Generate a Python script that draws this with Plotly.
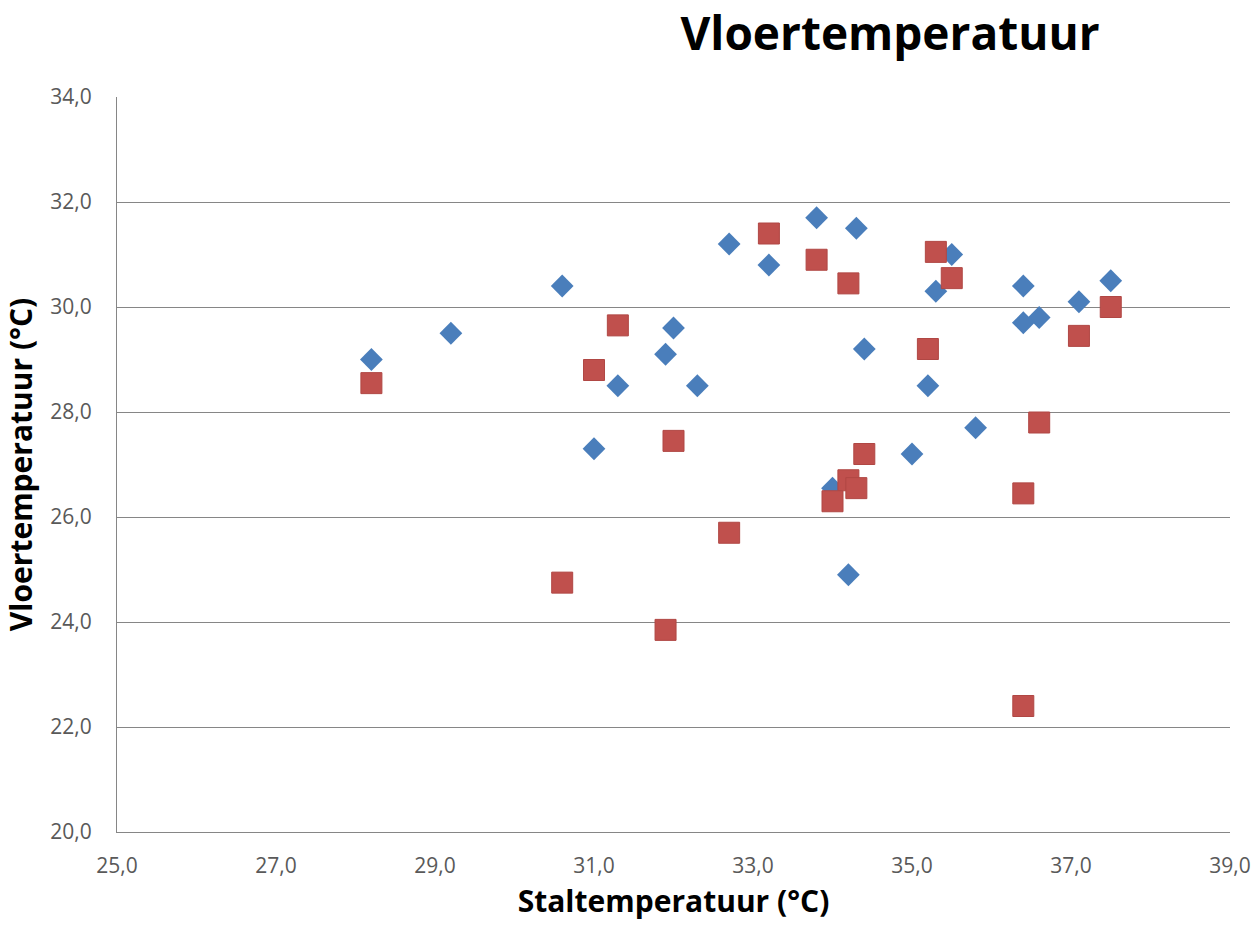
import plotly.graph_objects as go

# Series 1 (blue diamonds): stable temperature vs floor temperature
stal_1 = [28.2, 29.2, 30.6, 31.0, 31.3, 31.9, 32.0, 32.3, 32.7, 33.2, 33.8, 34.3,
          35.5, 35.3, 36.4, 37.5, 37.1, 36.6, 36.4, 34.4, 35.2, 35.8, 35.0, 34.2, 34.0]
vloer_1 = [29.0, 29.5, 30.4, 27.3, 28.5, 29.1, 29.6, 28.5, 31.2, 30.8, 31.7, 31.5,
           31.0, 30.3, 30.4, 30.5, 30.1, 29.8, 29.7, 29.2, 28.5, 27.7, 27.2, 24.9, 26.55]

# Series 2 (red squares)
stal_2 = [28.2, 31.0, 31.3, 32.0, 30.6, 31.9, 32.7, 33.2, 33.8, 34.2, 35.3, 35.5,
          35.2, 37.5, 37.1, 36.6, 34.4, 34.2, 34.3, 34.0, 36.4, 36.4]
vloer_2 = [28.55, 28.8, 29.65, 27.45, 24.75, 23.85, 25.7, 31.4, 30.9, 30.45, 31.05, 30.55,
           29.2, 30.0, 29.45, 27.8, 27.2, 26.7, 26.55, 26.3, 26.45, 22.4]

x_ticks = [25, 27, 29, 31, 33, 35, 37, 39]
y_ticks = [20, 22, 24, 26, 28, 30, 32, 34]

FONT = "Open Sans, Lato, sans-serif"

fig = go.Figure()
fig.add_trace(go.Scatter(
    x=stal_1, y=vloer_1, mode="markers",
    marker=dict(symbol="diamond", size=17.5, color="#4A7EBB", line=dict(width=0)),
    showlegend=False,
))
fig.add_trace(go.Scatter(
    x=stal_2, y=vloer_2, mode="markers",
    marker=dict(symbol="square", size=21, color="#C0504D",
                line=dict(width=1, color="#B04744")),
    showlegend=False,
))

tick_font = dict(family=FONT, size=21, color="#595959")
axis_title_font = dict(family=FONT, size=30, color="black")

fig.update_layout(
    width=1252, height=933,
    margin=dict(l=117, r=22, t=97, b=101),
    paper_bgcolor="white", plot_bgcolor="white",
    separators=",.",
    title=dict(text="<b>Vloertemperatuur</b>", x=890 / 1252, xanchor="center",
               xref="container", yref="container",
               y=1 - 34 / 933, yanchor="middle",
               font=dict(family=FONT, size=46, color="black")),
    xaxis=dict(
        range=[25, 39], tickvals=x_ticks, tickformat=".1f",
        showgrid=False, zeroline=False, automargin=False,
        showline=True, linecolor="#868686", linewidth=1,
        ticks="", tickfont=tick_font, ticklabelstandoff=15,
        title=dict(text="<b>Staltemperatuur (°C)</b>", standoff=12,
                   font=axis_title_font),
    ),
    yaxis=dict(
        range=[20, 34], tickvals=y_ticks, tickformat=".1f",
        showgrid=True, gridcolor="#868686", gridwidth=1, zeroline=False,
        automargin=False,
        showline=True, linecolor="#868686", linewidth=1,
        ticks="", tickfont=tick_font, ticklabelstandoff=20,
        title=dict(text="<b>Vloertemperatuur (°C)</b>", standoff=12,
                   font=axis_title_font),
    ),
)

fig.write_html("out.html")
